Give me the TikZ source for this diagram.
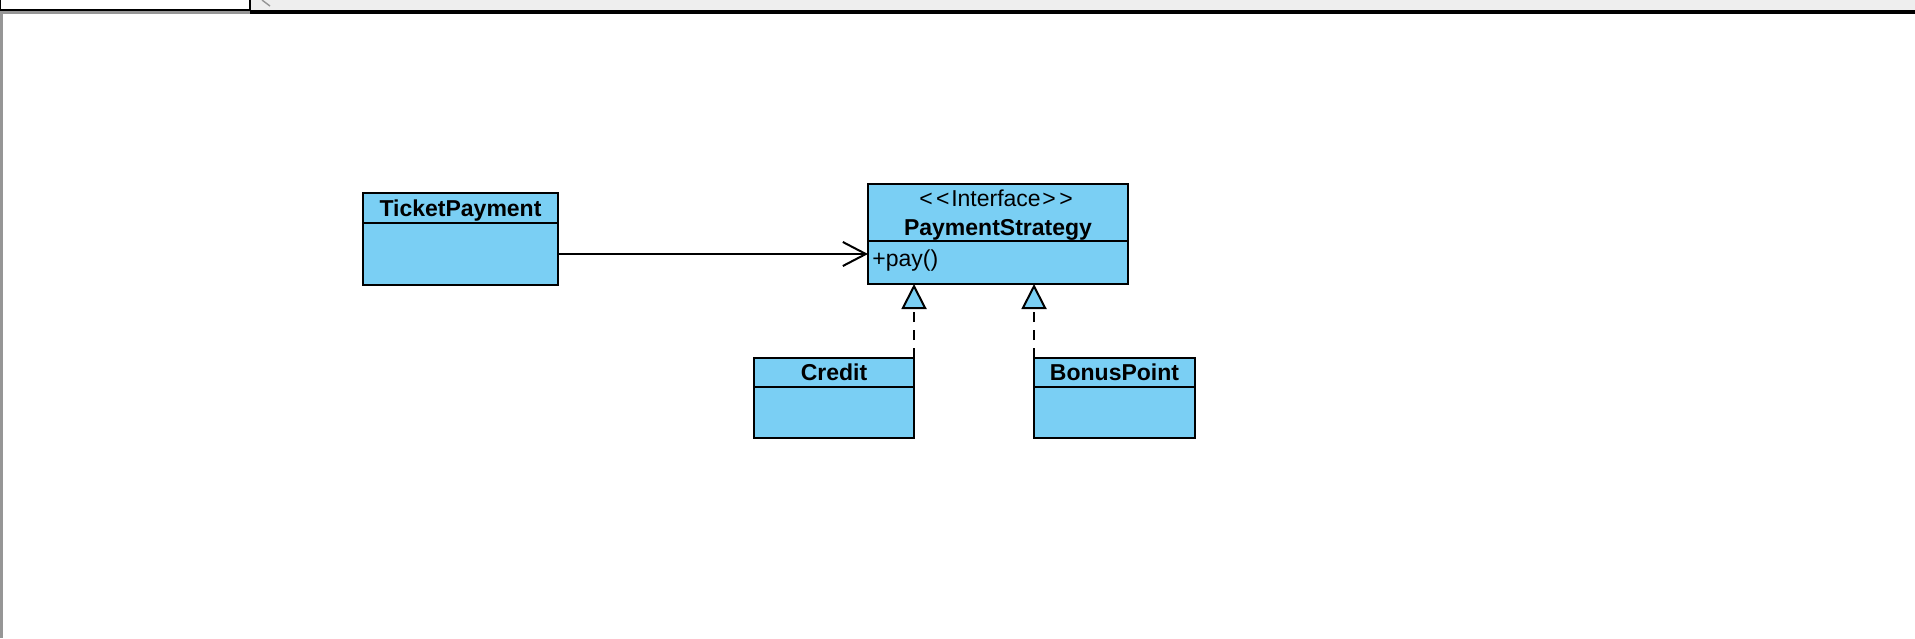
\documentclass[tikz,border=0pt]{standalone}
\usepackage{fontspec}
\setmainfont{Liberation Sans}
\usetikzlibrary{arrows.meta}
\definecolor{umlblue}{RGB}{122,207,244}
\definecolor{barbg}{RGB}{238,238,238}
\definecolor{bordergray}{RGB}{150,150,150}
\newcommand{\wlt}{\kern0.85pt<\kern0.85pt}
\newcommand{\wgt}{\kern0.85pt>\kern0.85pt}
\tikzset{
  classbox/.style={draw=black, line width=1pt, fill=umlblue, inner sep=0pt, outer sep=0pt, anchor=north west},
  divider/.style={draw=black, line width=1pt},
  lbl/.style={inner sep=0pt, anchor=base, font=\fontsize{11.5pt}{13pt}\selectfont},
  blbl/.style={lbl, font=\fontsize{11.5pt}{13pt}\selectfont\bfseries},
  assoc/.style={draw=black, line width=1pt, -{Straight Barb[length=11.5pt, width=12pt, line width=1pt]}},
  realize/.style={draw=black, line width=1pt, dash pattern=on 5pt off 4pt, -{Triangle[open, fill=umlblue, length=12.5pt, width=12.5pt, line width=1pt]}}
}
\begin{document}
\begin{tikzpicture}[x=0.5pt, y=-0.5pt]
\useasboundingbox (0,0) rectangle (1915,638);
\fill[white] (0,0) rectangle (1915,638);
% window chrome
\fill[barbg] (250,0) rectangle (1915,10);
\fill[black] (250,10) rectangle (1915,13.5);
\fill[bordergray] (0,11) rectangle (250,14);
\fill[white] (0,0) rectangle (250,10);
\draw[black, line width=1pt] (0,0) -- (0,10) -- (250,10) -- (250,0);
\fill[bordergray] (0,13) rectangle (2.5,638);
\draw[bordergray, line width=0.7pt] (262,0) -- (266,3) (266,3) -- (270,6);

% TicketPayment
\node[classbox, minimum width=97.5pt, minimum height=46pt] (tp) at (363,193) {};
\draw[divider] (363,223) -- (558,223);
\node[blbl] (tpname) at (460.5,216) {TicketPayment};

% PaymentStrategy
\node[classbox, minimum width=130pt, minimum height=50pt] (ps) at (868,184) {};
\draw[divider] (868,241) -- (1128,241);
\node[lbl] (psster) at (996,206) {\wlt\wlt Interface\wgt\wgt};
\node[blbl] (psname) at (998,235) {PaymentStrategy};
\node[lbl, anchor=base west] (psop) at (872,266) {+pay()};

% Credit
\node[classbox, minimum width=80pt, minimum height=40pt] (cr) at (754,358) {};
\draw[divider] (754,387) -- (914,387);
\node[blbl] (crname) at (834,380) {Credit};

% BonusPoint
\node[classbox, minimum width=80.5pt, minimum height=40pt] (bp) at (1034,358) {};
\draw[divider] (1034,387) -- (1195,387);
\node[blbl] (bpname) at (1114.5,380) {BonusPoint};

% connectors
\coordinate (tpout) at ([yshift=-7.5pt]tp.east);
\draw[assoc] (tpout) -- (tpout -| ps.west);
\draw[realize] (cr.north east) -- (cr.north east |- ps.south);
\draw[realize] (bp.north west) -- (bp.north west |- ps.south);
\end{tikzpicture}
\end{document}
